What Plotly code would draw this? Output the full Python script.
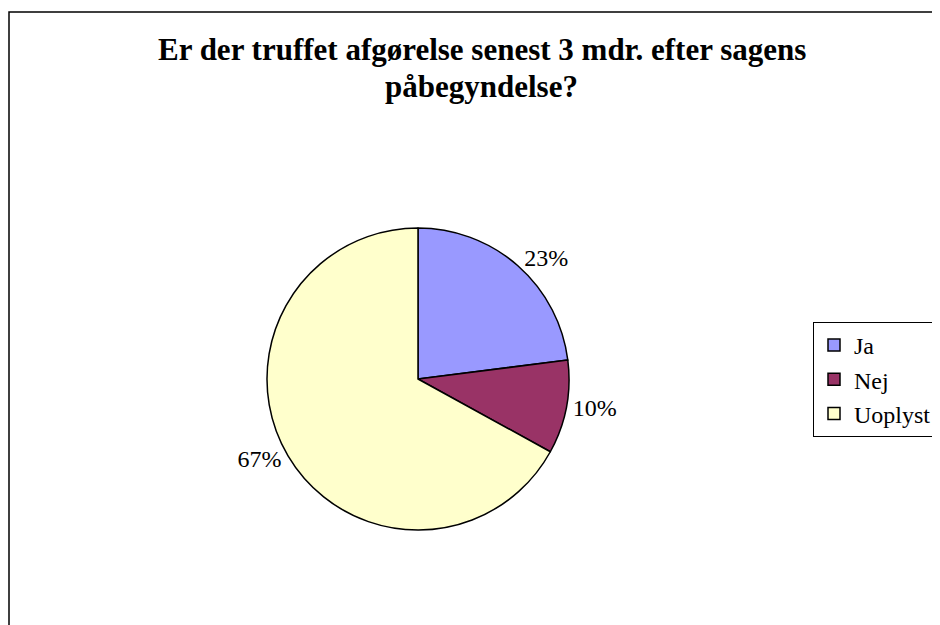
import plotly.graph_objects as go

labels = ["Ja", "Nej", "Uoplyst"]
values = [23, 10, 67]
colors = ["#9999FF", "#993366", "#FFFFCC"]
title_lines = ["Er der truffet afgørelse senest 3 mdr. efter sagens", "påbegyndelse?"]

# the page body adds an 8px margin, so the figure is drawn 8px in from the top-left
W, H = 932, 617
OFF = 8


def px_x(x):
    return (x - OFF) / W


def px_y(y):
    return 1 - (y - OFF) / H


fig = go.Figure(go.Pie(
    labels=labels,
    values=values,
    sort=False,
    direction="clockwise",
    rotation=0,
    marker=dict(colors=colors, line=dict(color="black", width=1.5)),
    textposition="outside",
    texttemplate="%{percent:.0%}",
    textfont=dict(family="Liberation Serif", size=24, color="black"),
    hoverinfo="label+percent",
    domain=dict(x=[px_x(267), px_x(569)], y=[px_y(530), px_y(228)]),
))

# title as two lines so the line spacing matches
title_y = [49.5, 86.5]
for line, y in zip(title_lines, title_y):
    fig.add_annotation(
        text=f"<b>{line}</b>", showarrow=False,
        xref="paper", yref="paper",
        x=px_x(482), xanchor="center",
        y=px_y(y), yanchor="middle",
        font=dict(family="Liberation Serif", size=31, color="black"),
    )

fig.update_layout(
    width=W,
    height=H,
    margin=dict(l=0, r=0, t=0, b=0),
    paper_bgcolor="white",
    font=dict(family="Liberation Serif", color="black"),
    legend=dict(
        x=px_x(813), xanchor="left",
        y=px_y(322), yanchor="top",
        bordercolor="black", borderwidth=1,
        font=dict(family="Liberation Serif", size=24, color="black"),
        itemwidth=30,
        traceorder="normal",
    ),
    shapes=[dict(
        type="rect", xref="paper", yref="paper",
        x0=px_x(9), x1=1.05, y0=-0.05, y1=px_y(12),
        line=dict(color="black", width=1.5),
    )],
)

fig.write_html("out.html")
